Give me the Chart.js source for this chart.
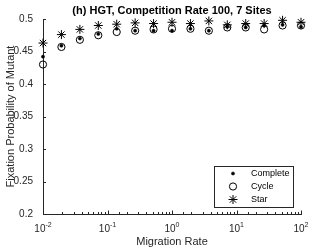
<!DOCTYPE html>
<html>
<head>
<meta charset="utf-8">
<script src="https://cdn.jsdelivr.net/npm/chart.js@4.4.0/dist/chart.umd.min.js"></script>
<style>
  html, body { margin: 0; padding: 0; background: #fff; }
  #wrap { width: 332px; height: 249px; }
</style>
</head>
<body>
<div id="wrap"><canvas id="chart" width="332" height="249"></canvas></div>
<script>
// values
const migrationRates = [0.01, 0.0193, 0.0373, 0.072, 0.1389, 0.2683, 0.5179, 1, 1.9307, 3.7276, 7.1969, 13.895, 26.827, 51.795, 100];
const completeVals = [0.442, 0.459, 0.470, 0.477, 0.485, 0.482, 0.482, 0.482, 0.485, 0.482, 0.488, 0.487, 0.490, 0.491, 0.488];
const cycleVals    = [0.430, 0.457, 0.468, 0.475, 0.480, 0.482, 0.484, 0.485, 0.485, 0.482, 0.487, 0.487, 0.484, 0.490, 0.490];
const starVals     = [0.463, 0.476, 0.484, 0.490, 0.492, 0.494, 0.493, 0.495, 0.493, 0.497, 0.491, 0.493, 0.493, 0.498, 0.495];
const seriesNames = ['Complete', 'Cycle', 'Star'];
const xTickValues = [0.01, 0.1, 1, 10, 100];
const xTickExponents = ['-2', '-1', '0', '1', '2'];
const chartTitle = '(h) HGT, Competition Rate 100, 7 Sites';

const axisColor = '#262626';
const fontFamily = '"Liberation Sans", Arial, Helvetica, sans-serif';

const toPoints = vals => vals.map((v, i) => ({ x: migrationRates[i], y: v }));

// title, inward tick marks, x labels with superscripts, legend box
const decorPlugin = {
    id: 'decor',
    afterDraw(chart) {
        const ctx = chart.ctx;
        const area = chart.chartArea;
        const xs = chart.scales.x;
        const ys = chart.scales.y;
        ctx.save();

        // title
        ctx.fillStyle = '#000';
        ctx.font = 'bold 11px ' + fontFamily;
        ctx.textAlign = 'center';
        ctx.textBaseline = 'alphabetic';
        ctx.fillText(chartTitle, (area.left + area.right) / 2, 14);

        // tick marks pointing inward
        ctx.strokeStyle = axisColor;
        ctx.lineWidth = 1;
        ctx.beginPath();
        xs.ticks.forEach(t => {
            const lg = Math.log10(t.value);
            const major = Math.abs(lg - Math.round(lg)) < 1e-6;
            const px = Math.round(xs.getPixelForValue(t.value)) + 0.5;
            ctx.moveTo(px, area.bottom);
            ctx.lineTo(px, area.bottom - (major ? 3.5 : 2));
        });
        ys.ticks.forEach(t => {
            const py = Math.round(ys.getPixelForValue(t.value)) + 0.5;
            ctx.moveTo(area.left, py);
            ctx.lineTo(area.left + 3, py);
        });
        ctx.stroke();

        // x tick labels 10^n
        ctx.fillStyle = axisColor;
        ctx.textAlign = 'left';
        xTickValues.forEach((v, i) => {
            const px = xs.getPixelForValue(v);
            ctx.font = '10px ' + fontFamily;
            const w1 = ctx.measureText('10').width;
            ctx.font = '7px ' + fontFamily;
            const w2 = ctx.measureText(xTickExponents[i]).width;
            const x0 = px - (w1 + w2) / 2;
            ctx.font = '10px ' + fontFamily;
            ctx.fillText('10', x0, 232);
            ctx.font = '7px ' + fontFamily;
            ctx.fillText(xTickExponents[i], x0 + w1, 227);
        });

        // legend
        const lx = 214.5, ly = 166.5, lw = 79, lh = 41;
        ctx.fillStyle = '#fff';
        ctx.fillRect(lx, ly, lw, lh);
        ctx.strokeStyle = axisColor;
        ctx.strokeRect(lx, ly, lw, lh);
        const rowsY = [173.5, 186.5, 199.5];
        ctx.font = '9px ' + fontFamily;
        ctx.textBaseline = 'middle';
        chart.data.datasets.forEach((ds, i) => {
            ctx.fillStyle = ds.pointBackgroundColor;
            ctx.strokeStyle = ds.pointBorderColor;
            ctx.lineWidth = ds.pointBorderWidth;
            Chart.helpers.drawPoint(ctx, {
                pointStyle: ds.pointStyle,
                radius: ds.pointRadius,
                borderWidth: ds.pointBorderWidth,
                rotation: 0
            }, 233, rowsY[i]);
            ctx.fillStyle = '#000';
            ctx.fillText(seriesNames[i], 251, rowsY[i] + 0.5);
        });

        ctx.restore();
    }
};

new Chart(document.getElementById('chart'), {
    type: 'scatter',
    data: {
        datasets: [
            {
                label: seriesNames[0],
                data: toPoints(completeVals),
                pointStyle: 'circle',
                pointRadius: 1.6,
                pointBackgroundColor: '#000',
                pointBorderColor: '#000',
                pointBorderWidth: 0.5,
                clip: false
            },
            {
                label: seriesNames[1],
                data: toPoints(cycleVals),
                pointStyle: 'circle',
                pointRadius: 3.6,
                pointBackgroundColor: 'rgba(0,0,0,0)',
                pointBorderColor: '#000',
                pointBorderWidth: 1,
                clip: false
            },
            {
                label: seriesNames[2],
                data: toPoints(starVals),
                pointStyle: 'star',
                pointRadius: 4.5,
                pointBackgroundColor: 'rgba(0,0,0,0)',
                pointBorderColor: '#000',
                pointBorderWidth: 1,
                clip: false
            }
        ]
    },
    options: {
        responsive: false,
        animation: false,
        devicePixelRatio: 1,
        layout: { padding: { top: 19, right: 31, left: 0, bottom: 0 } },
        plugins: {
            legend: { display: false },
            title: { display: false },
            tooltip: { enabled: false }
        },
        scales: {
            x: {
                type: 'logarithmic',
                position: 'bottom',
                min: 0.01,
                max: 100,
                grid: { display: false, drawTicks: false, tickLength: 0 },
                border: { display: true, color: axisColor, width: 1 },
                ticks: { display: false, autoSkip: false },
                title: {
                    display: true,
                    text: 'Migration Rate',
                    color: axisColor,
                    font: { family: fontFamily, size: 11 },
                    padding: { top: 0, bottom: 0 }
                },
                afterFit: s => { s.height = 35; }
            },
            y: {
                type: 'linear',
                position: 'left',
                min: 0.2,
                max: 0.5,
                grid: { display: false, drawTicks: false, tickLength: 0 },
                border: { display: true, color: axisColor, width: 1 },
                ticks: {
                    stepSize: 0.05,
                    padding: 10,
                    color: axisColor,
                    font: { family: fontFamily, size: 10 },
                    callback: v => String(Number(v.toFixed(2)))
                },
                title: {
                    display: true,
                    text: 'Fixation Probability of Mutant',
                    color: axisColor,
                    font: { family: fontFamily, size: 11 },
                    padding: { top: 4, bottom: 0 }
                },
                afterFit: s => { s.width = 43; }
            }
        }
    },
    plugins: [decorPlugin]
});
</script>
</body>
</html>
